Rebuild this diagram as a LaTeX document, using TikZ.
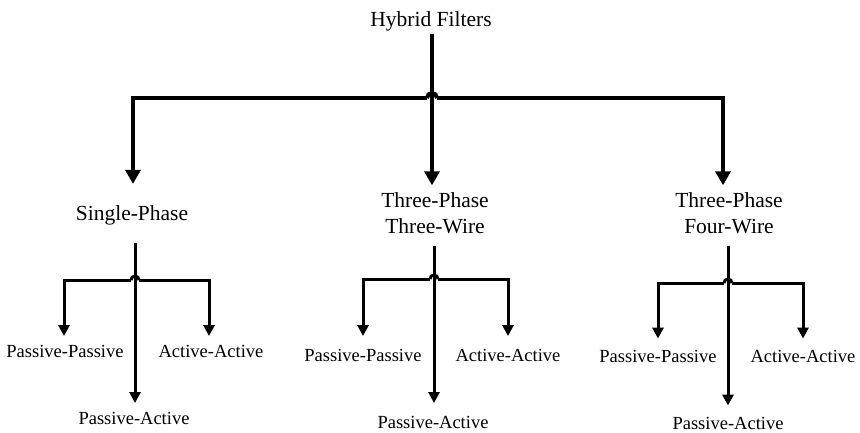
\documentclass[tikz,border=0pt]{standalone}
\usepackage{fontspec}
\setmainfont{Liberation Serif}
\usetikzlibrary{arrows.meta,calc}
\begin{document}
\begin{tikzpicture}[x=1pt,y=-1pt,
  bigarr/.style={line width=4pt,-{Triangle[width=15pt,length=14pt]}},
  bigln/.style={line width=4pt},
  smlarr/.style={line width=3pt,-{Triangle[width=11pt,length=11pt]}},
  smlln/.style={line width=3pt},
  toplbl/.style={font=\fontsize{21.5}{26}\selectfont,inner sep=0pt,align=center},
  leaflbl/.style={font=\fontsize{18.5}{22}\selectfont,inner sep=0pt},
]
\useasboundingbox (0,0) rectangle (860,433);

% top level
\node[toplbl,anchor=base] (hf) at (431,27) {Hybrid Filters};
\node[toplbl,anchor=base] (sp) at (132,220) {Single-Phase};
\node[toplbl,anchor=north] (tw) at (435,192.3) {Three-Phase\\Three-Wire};
\node[toplbl,anchor=north] (fw) at (729,192.3) {Three-Phase\\Four-Wire};

\coordinate (hub) at (432,98);
\draw[bigarr,shorten <=2pt,shorten >=7pt] (hub |- hf.south) -- (hub |- tw.north);
\draw[bigln] ($(hub)+(-5,0)$) arc[start angle=180,end angle=0,radius=5pt];
\draw[bigarr,shorten >=21pt] ($(hub)+(-5,0)$) -| ([xshift=1pt]sp.north);
\draw[bigarr,shorten >=7pt] ($(hub)+(5,0)$) -| ([xshift=-6pt]fw.north);

% single-phase subtree
\coordinate (sh) at (135,280);
\node[leaflbl,anchor=base] (spp) at (65,357) {Passive-Passive};
\node[leaflbl,anchor=base] (saa) at (211,357) {Active-Active};
\node[leaflbl,anchor=base] (spa) at (134,424) {Passive-Active};
\draw[smlarr,shorten <=18pt,shorten >=8.5pt] (sh |- sp.south) -- (sh |- spa.north);
\draw[smlln] ($(sh)+(-4,0)$) arc[start angle=180,end angle=0,radius=4pt];
\draw[smlarr,shorten >=8.5pt] ($(sh)+(-4,0)$) -| ([xshift=-1pt]spp.north);
\draw[smlarr,shorten >=8.5pt] ($(sh)+(4,0)$) -| ([xshift=-2pt]saa.north);

% three-phase three-wire subtree
\coordinate (wh) at (434,279);
\node[leaflbl,anchor=base] (wpp) at (363,361) {Passive-Passive};
\node[leaflbl,anchor=base] (waa) at (508,361) {Active-Active};
\node[leaflbl,anchor=base] (wpa) at (433,428) {Passive-Active};
\draw[smlarr,shorten <=12pt,shorten >=12.5pt] (wh |- tw.south) -- (wh |- wpa.north);
\draw[smlln] ($(wh)+(-4,0)$) arc[start angle=180,end angle=0,radius=4pt];
\draw[smlarr,shorten >=12.5pt] ($(wh)+(-4,0)$) -| (wpp.north);
\draw[smlarr,shorten >=12.5pt] ($(wh)+(4,0)$) -| (waa.north);

% three-phase four-wire subtree
\coordinate (fh) at (728,283);
\node[leaflbl,anchor=base] (fpp) at (658,362) {Passive-Passive};
\node[leaflbl,anchor=base] (faa) at (803,362) {Active-Active};
\node[leaflbl,anchor=base] (fpa) at (728,429) {Passive-Active};
\draw[smlarr,shorten <=12pt,shorten >=11pt] (fh |- fw.south) -- (fh |- fpa.north);
\draw[smlln] ($(fh)+(-4,0)$) arc[start angle=180,end angle=0,radius=4pt];
\draw[smlarr,shorten >=11pt] ($(fh)+(-4,0)$) -| (fpp.north);
\draw[smlarr,shorten >=11pt] ($(fh)+(4,0)$) -| (faa.north);
\end{tikzpicture}
\end{document}
